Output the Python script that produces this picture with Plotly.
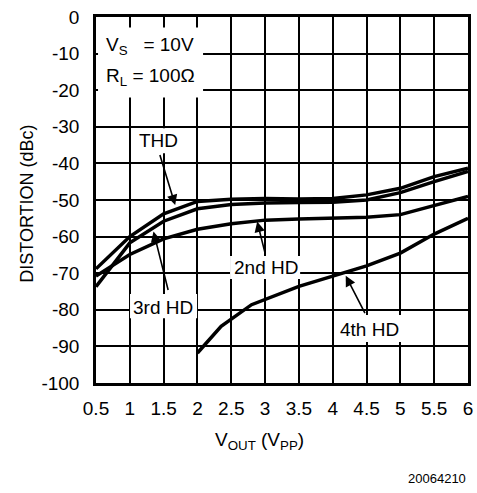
import plotly.graph_objects as go

# ---- data ----
vout = [0.5, 1.0, 1.5, 2.0, 2.5, 3.0, 3.5, 4.0, 4.5, 5.0, 5.5, 6.0]
thd = [-68.8, -60.0, -53.8, -50.4, -49.8, -49.6, -49.7, -49.6, -48.6, -46.8, -43.6, -41.3]
hd3 = [-73.7, -61.7, -55.8, -52.4, -51.2, -50.8, -50.7, -50.6, -50.0, -48.0, -45.0, -42.2]
hd2 = [-70.8, -64.9, -60.6, -58.0, -56.5, -55.5, -55.2, -55.0, -54.7, -54.0, -51.5, -49.0]
vout4 = [2.0, 2.35, 2.8, 3.5, 4.0, 4.5, 5.0, 5.5, 6.0]
hd4 = [-91.8, -84.5, -78.6, -73.6, -70.8, -68.0, -64.5, -59.3, -55.0]

x_ticks = [0.5, 1, 1.5, 2, 2.5, 3, 3.5, 4, 4.5, 5, 5.5, 6]
x_tick_text = ["0.5", "1", "1.5", "2", "2.5", "3", "3.5", "4", "4.5", "5", "5.5", "6"]
y_ticks = [0, -10, -20, -30, -40, -50, -60, -70, -80, -90, -100]
y_tick_text = ["0", "-10", "-20", "-30", "-40", "-50", "-60", "-70", "-80", "-90", "-100"]

FONT = "Liberation Sans, Arial, sans-serif"
LW = 3.5

fig = go.Figure()
for xs, ys, name in [(vout, thd, "THD"), (vout, hd3, "3rd HD"), (vout, hd2, "2nd HD"), (vout4, hd4, "4th HD")]:
    fig.add_trace(go.Scatter(x=xs, y=ys, mode="lines", name=name,
                             line=dict(color="black", width=LW), showlegend=False))

# white boxes behind labels (hide grid)
boxes = [
    (0.53, 2.083, -2.9, -22.0),
    (1.121, 1.743, -30.4, -37.2),
    (1.003, 1.994, -75.7, -82.3),
    (2.482, 3.518, -65.3, -71.6),
    (4.065, 5.012, -81.4, -88.8),
]
shapes = []
for x0, x1, y0, y1 in boxes:
    shapes.append(dict(type="rect", xref="x", yref="y", x0=x0, x1=x1, y0=y0, y1=y1,
                       fillcolor="white", line=dict(width=0), layer="between"))

ann = []
# labels
for txt, x, y in [("THD", 1.425, -33.8), ("3rd HD", 1.491, -79.4),
                  ("2nd HD", 3.007, -68.5), ("4th HD", 4.538, -85.5)]:
    ann.append(dict(text=txt, x=x, y=y, xref="x", yref="y", showarrow=False,
                    xanchor="center", yanchor="middle",
                    font=dict(size=19, color="black", family=FONT)))
# arrows (head x,y ; tail ax,ay)
for hx, hy, tx, ty in [(1.671, -51.4, 1.438, -37.3), (1.350, -58.6, 1.572, -75.0),
                       (2.883, -55.9, 3.006, -65.0), (4.192, -70.7, 4.488, -81.3)]:
    ann.append(dict(text="", x=hx, y=hy, ax=tx, ay=ty, xref="x", yref="y",
                    axref="x", ayref="y", showarrow=True, arrowhead=2,
                    arrowsize=1.3, arrowwidth=1.6, arrowcolor="black", standoff=0))
# conditions
ann.append(dict(text="V<sub>S</sub>\u00a0\u00a0\u00a0= 10V", x=0.618, y=-7.8, xref="x", yref="y",
                xanchor="left", yanchor="middle", showarrow=False,
                font=dict(size=19, color="black", family=FONT)))
ann.append(dict(text="R<sub>L</sub> = 100Ω", x=0.618, y=-16.5, xref="x", yref="y",
                xanchor="left", yanchor="middle", showarrow=False,
                font=dict(size=19, color="black", family=FONT)))

# page-pixel layout (body margin removed by post_script)
W, H = 477, 493
L, R, T = 96, 477 - 468, 17
B = H - 383.5
pw, ph = W - L - R, H - T - B


def px(xp, yp):
    return (xp - L) / pw, (H - B - yp) / ph


for txt, xp, yp, ang, size, xa in [
    ("DISTORTION (dBc)", 27, 204, -90, 18, "center"),
    ("V<sub>OUT</sub> (V<sub>PP</sub>)", 259, 442, 0, 19, "center"),
    ("20064210", 468, 479, 0, 13, "right"),
]:
    xx, yy = px(xp, yp)
    ann.append(dict(text=txt, x=xx, y=yy, xref="paper", yref="paper", showarrow=False,
                    textangle=ang, xanchor=xa, yanchor="middle",
                    font=dict(size=size, color="black", family=FONT)))

fig.update_layout(
    width=W, height=H, margin=dict(l=L, r=R, t=T, b=B),
    paper_bgcolor="white", plot_bgcolor="white",
    font=dict(family=FONT, size=19, color="black"),
    shapes=shapes, annotations=ann,
    xaxis=dict(range=[0.5, 6], tickvals=x_ticks, ticktext=x_tick_text,
               showgrid=True, gridcolor="black", gridwidth=1.5,
               showline=True, linecolor="black", linewidth=2.5, mirror=True,
               ticks="outside", ticklen=6, tickcolor="rgba(0,0,0,0)",
               zeroline=False, tickfont=dict(size=19), automargin=False,
               ticklabeloverflow="allow"),
    yaxis=dict(range=[-100, 0], tickvals=y_ticks, ticktext=y_tick_text,
               showgrid=True, gridcolor="black", gridwidth=1.5,
               showline=True, linecolor="black", linewidth=2.5, mirror=True,
               ticks="outside", ticklen=10, tickcolor="rgba(0,0,0,0)",
               zeroline=False, tickfont=dict(size=19), automargin=False,
               ticklabeloverflow="allow"),
)
fig.write_html("out.html", config={"displayModeBar": False},
               post_script="document.body.style.margin='0';document.body.style.overflow='hidden';")
